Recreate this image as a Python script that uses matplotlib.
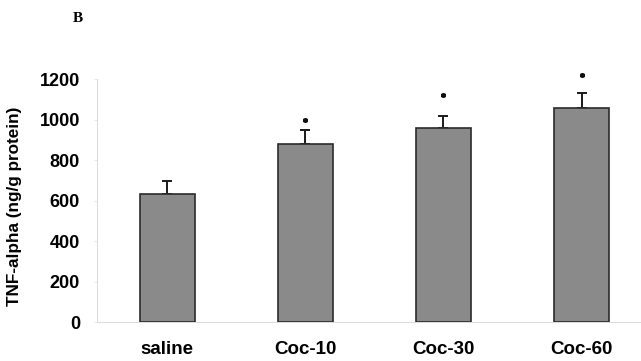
import matplotlib
matplotlib.use("Agg")
import matplotlib.pyplot as plt

groups = ["saline", "Coc-10", "Coc-30", "Coc-60"]
tnf_mean = [630, 880, 958, 1058]
tnf_sem = [67, 70, 62, 74]
# height of the significance asterisk, None where there is none
star_y = [None, 1000, 1122, 1218]
yticks = [0, 200, 400, 600, 800, 1000, 1200]

plt.rcParams['font.family'] = ['Liberation Sans', 'DejaVu Sans']

fig = plt.figure(figsize=(6.41, 3.61), dpi=100)
ax = fig.add_axes([0.151, 0.108, 0.849, 0.673])

x = list(range(len(groups)))
ax.bar(x, tnf_mean, width=0.4, color='#8a8a8a', edgecolor='#2b2b2b',
       linewidth=1.2, zorder=2)
ax.errorbar(x, tnf_mean, yerr=[[0] * len(tnf_sem), tnf_sem], fmt='none',
            ecolor='#1a1a1a', elinewidth=1.4, capsize=3.9, capthick=1.4, zorder=1)

for xi, sy in zip(x, star_y):
    if sy is not None:
        ax.plot(xi, sy, marker=(6, 2, 0), ms=3.5, mew=1.2, color='#111111',
                clip_on=False)

ax.set_xlim(-0.51, 3.43)
ax.set_ylim(0, 1200)
ax.set_yticks(yticks)
ax.set_xticks(x)
ax.set_xticklabels(groups, fontsize=13.5, fontweight='bold')
for lbl in ax.get_yticklabels():
    lbl.set_fontsize(13)
    lbl.set_fontweight('bold')

ax.tick_params(axis='x', length=0, pad=14)
ax.tick_params(axis='y', length=2, width=0.5, color='#dddddd', pad=10)

ax.set_ylabel("TNF-alpha (ng/g protein)", fontsize=12.3, fontweight='bold')
ax.yaxis.set_label_coords(-0.138, 0.477)

for s in ['top', 'right']:
    ax.spines[s].set_visible(False)
for s in ['left', 'bottom']:
    ax.spines[s].set_color('#dadada')
    ax.spines[s].set_linewidth(0.7)

fig.text(78 / 641, 1 - 18 / 361, "B", family=['Liberation Serif', 'DejaVu Serif'],
         fontweight='bold', fontsize=11, ha='center', va='center')

fig.savefig("out.png", dpi=100)
